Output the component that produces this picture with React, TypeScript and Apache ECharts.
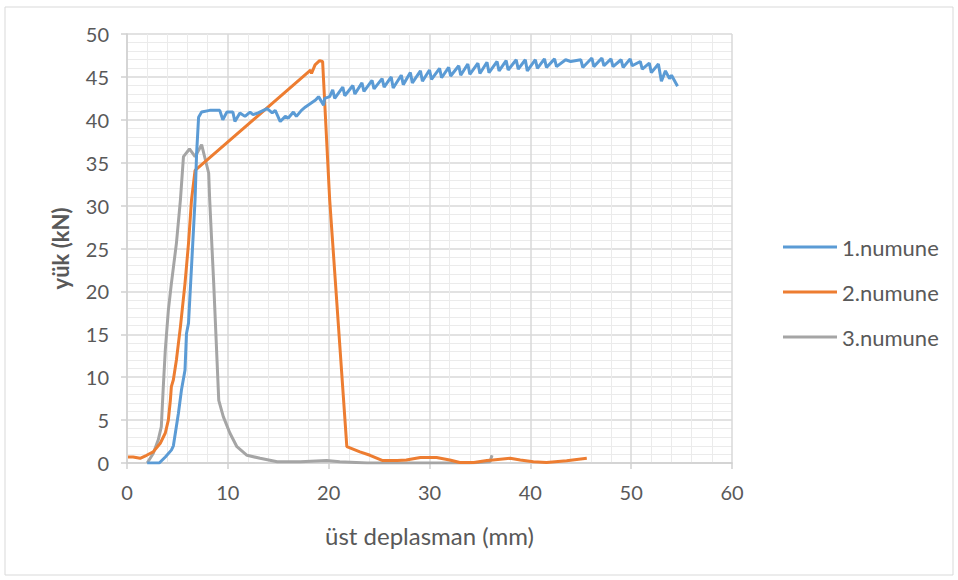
import React, { useEffect, useRef } from "react";
import * as echarts from "echarts";

const seriesNames = ["1.numune", "2.numune", "3.numune"];
const seriesColors = ["#5B9BD5", "#ED7D31", "#A5A5A5"];

// 1.numune: [displacement mm, load kN]
const numune1: number[][] = [
  [2.0, 0], [3.2, 0], [3.8, 0.7], [4.4, 1.5], [4.6, 2.0], [5.1, 5.8], [5.4, 8.5], [5.75, 10.8],
  [5.9, 15.1], [6.1, 16.3], [6.4, 22.9], [6.75, 30.7], [6.9, 36], [7.1, 40.3], [7.4, 40.9],
  [8.2, 41.1], [9.2, 41.1], [9.5, 40.0], [9.9, 40.9], [10.5, 40.9], [10.7, 39.8], [11.2, 40.8],
  [11.7, 40.4], [12.2, 40.9], [12.5, 40.6], [13.0, 40.8], [13.9, 41.3], [14.4, 40.8], [14.7, 41.1],
  [15.2, 39.8], [15.7, 40.4], [16.0, 40.2], [16.5, 40.9], [16.8, 40.4], [17.3, 41.1], [17.7, 41.5],
  [18.2, 41.9], [18.7, 42.3], [19.0, 42.7], [19.5, 41.7], [19.6, 42.5], [20.1, 42.7], [20.4, 43.5],
  [20.6, 42.5], [21.4, 43.8], [21.6, 42.8], [22.4, 44.0], [22.6, 43.0], [23.3, 44.3], [23.5, 43.3],
  [24.3, 44.6], [24.5, 43.6], [25.3, 44.8], [25.5, 43.8], [26.2, 45.0], [26.4, 43.7], [27.2, 45.2],
  [27.4, 44.1], [28.1, 45.5], [28.3, 44.3], [29.1, 45.7], [29.3, 44.5], [30.0, 45.8], [30.2, 44.7],
  [31.0, 46.0], [31.2, 44.9], [31.9, 46.1], [32.1, 45.1], [32.9, 46.3], [33.1, 45.2], [33.8, 46.5],
  [34.0, 45.3], [34.8, 46.6], [35.0, 45.4], [35.7, 46.7], [35.9, 45.5], [36.7, 46.8], [36.9, 45.7],
  [37.6, 46.9], [37.8, 45.8], [38.6, 47.0], [38.8, 45.9], [39.5, 47.0], [39.7, 45.7], [40.5, 47.0],
  [40.7, 46.0], [41.4, 47.1], [41.6, 46.1], [42.4, 47.1], [42.6, 46.2], [43.5, 47.0], [44.0, 46.8],
  [45.0, 47.0], [45.2, 46.1], [46.1, 47.2], [46.3, 46.2], [47.1, 47.2], [47.3, 46.3], [48.0, 47.1],
  [48.2, 46.2], [49.0, 47.0], [49.2, 46.1], [49.9, 47.1], [50.1, 46.3], [50.9, 46.8], [51.1, 45.9],
  [51.8, 46.6], [52.0, 45.5], [52.7, 46.5], [53.0, 44.5], [53.4, 45.7], [53.8, 44.8], [54.0, 45.2],
  [54.6, 43.9],
];

// 2.numune
const numune2: number[][] = [
  [0.1, 0.7], [0.6, 0.7], [1.3, 0.55], [1.95, 0.9], [2.6, 1.3], [3.3, 2.3], [3.8, 3.5], [4.1, 5.0],
  [4.3, 7.3], [4.4, 8.9], [4.6, 9.7], [4.9, 12.0], [5.3, 15.9], [5.75, 20.9], [6.1, 25.6],
  [6.4, 30.7], [6.75, 34.1], [18.2, 45.8], [18.3, 45.4], [18.65, 46.4], [19.1, 46.9], [19.4, 46.8],
  [20.1, 30.7], [21.8, 1.9], [23.1, 1.3], [24.1, 0.9], [25.3, 0.3], [26.8, 0.3], [27.7, 0.35],
  [29.1, 0.65], [30.7, 0.65], [32.0, 0.35], [33.0, 0.05], [34.4, 0.05], [35.7, 0.3], [36.3, 0.35],
  [38.0, 0.55], [39.0, 0.35], [40.3, 0.15], [41.6, 0.05], [43.6, 0.25], [45.6, 0.55],
];

// 3.numune
const numune3: number[][] = [
  [2.0, 0], [2.6, 1.1], [3.1, 2.7], [3.4, 4.2], [3.6, 8.9], [3.8, 13.2], [4.1, 17.8], [4.4, 20.9],
  [4.9, 25.6], [5.3, 30.7], [5.6, 35.7], [6.2, 36.6], [6.75, 35.7], [7.4, 37.1], [8.1, 33.8],
  [8.2, 30.7], [8.6, 20.9], [9.1, 7.3], [9.55, 5.4], [10.2, 3.5], [10.9, 1.9], [11.9, 0.9],
  [13.2, 0.55], [14.9, 0.15], [17.2, 0.15], [19.8, 0.3], [21.1, 0.15], [23.8, 0], [34.0, 0],
  [36.0, 0.15], [36.2, 0.9],
];

const xTicks = { min: 0, max: 60, interval: 10 };
const yTicks = { min: 0, max: 50, interval: 5 };
const xTitle = "üst deplasman (mm)";
const yTitle = "yük (kN)";

export default function App() {
  const ref = useRef<HTMLDivElement>(null);
  useEffect(() => {
    if (!ref.current) return;
    const chart = echarts.init(ref.current, null, { renderer: "svg" });
    const font = "Lato, 'Open Sans', sans-serif";
    const textColor = "#595959";
    const dataSets = [numune1, numune2, numune3];
    chart.setOption({
      animation: false,
      backgroundColor: "#ffffff",
      textStyle: { fontFamily: font },
      graphic: [
        {
          type: "rect",
          shape: { x: 5, y: 7, width: 948, height: 568 },
          style: { fill: "none", stroke: "#d9d9d9", lineWidth: 1 },
          silent: true,
        },
      ],
      grid: { left: 127, right: 226, top: 34, bottom: 117 },
      legend: {
        orient: "vertical",
        left: 783,
        top: 236,
        padding: 0,
        icon: "rect",
        itemWidth: 54,
        itemHeight: 3,
        itemGap: 23,
        textStyle: { fontSize: 22, color: textColor, fontFamily: font },
        data: seriesNames,
      },
      xAxis: {
        type: "value",
        min: xTicks.min,
        max: xTicks.max,
        interval: xTicks.interval,
        name: xTitle,
        nameLocation: "middle",
        nameGap: 60,
        nameTextStyle: { fontSize: 24, color: textColor, fontFamily: font },
        axisLine: { show: true, lineStyle: { color: "#d0d0d0", width: 1.5 } },
        axisTick: { show: true, length: 6, lineStyle: { color: "#d0d0d0", width: 1.5 } },
        axisLabel: { fontSize: 20, color: textColor, margin: 19, fontFamily: font },
        splitLine: { show: true, lineStyle: { color: "#d9d9d9", width: 1.5 } },
        minorTick: { show: false, splitNumber: 5 },
        minorSplitLine: { show: true, lineStyle: { color: "#ebebeb", width: 1 } },
      },
      yAxis: {
        type: "value",
        min: yTicks.min,
        max: yTicks.max,
        interval: yTicks.interval,
        name: yTitle,
        nameLocation: "middle",
        nameGap: 56,
        nameTextStyle: { fontSize: 22, color: textColor, fontWeight: "bold", fontFamily: font },
        axisLine: { show: true, lineStyle: { color: "#d0d0d0", width: 1.5 } },
        axisTick: { show: true, length: 6, lineStyle: { color: "#d0d0d0", width: 1.5 } },
        axisLabel: { fontSize: 20, color: textColor, margin: 18, fontFamily: font },
        splitLine: { show: true, lineStyle: { color: "#d9d9d9", width: 1.5 } },
        minorTick: { show: false, splitNumber: 5 },
        minorSplitLine: { show: true, lineStyle: { color: "#ebebeb", width: 1 } },
      },
      series: seriesNames.map((name, i) => ({
        name,
        type: "line",
        data: dataSets[i],
        symbol: "none",
        showSymbol: false,
        smooth: false,
        color: seriesColors[i],
        lineStyle: { color: seriesColors[i], width: 3 },
        z: 3 - i,
      })),
    });
    return () => chart.dispose();
  }, []);
  return (
    <div
      ref={ref}
      style={{ position: "absolute", left: 0, top: 0, width: 958, height: 580 }}
    />
  );
}
